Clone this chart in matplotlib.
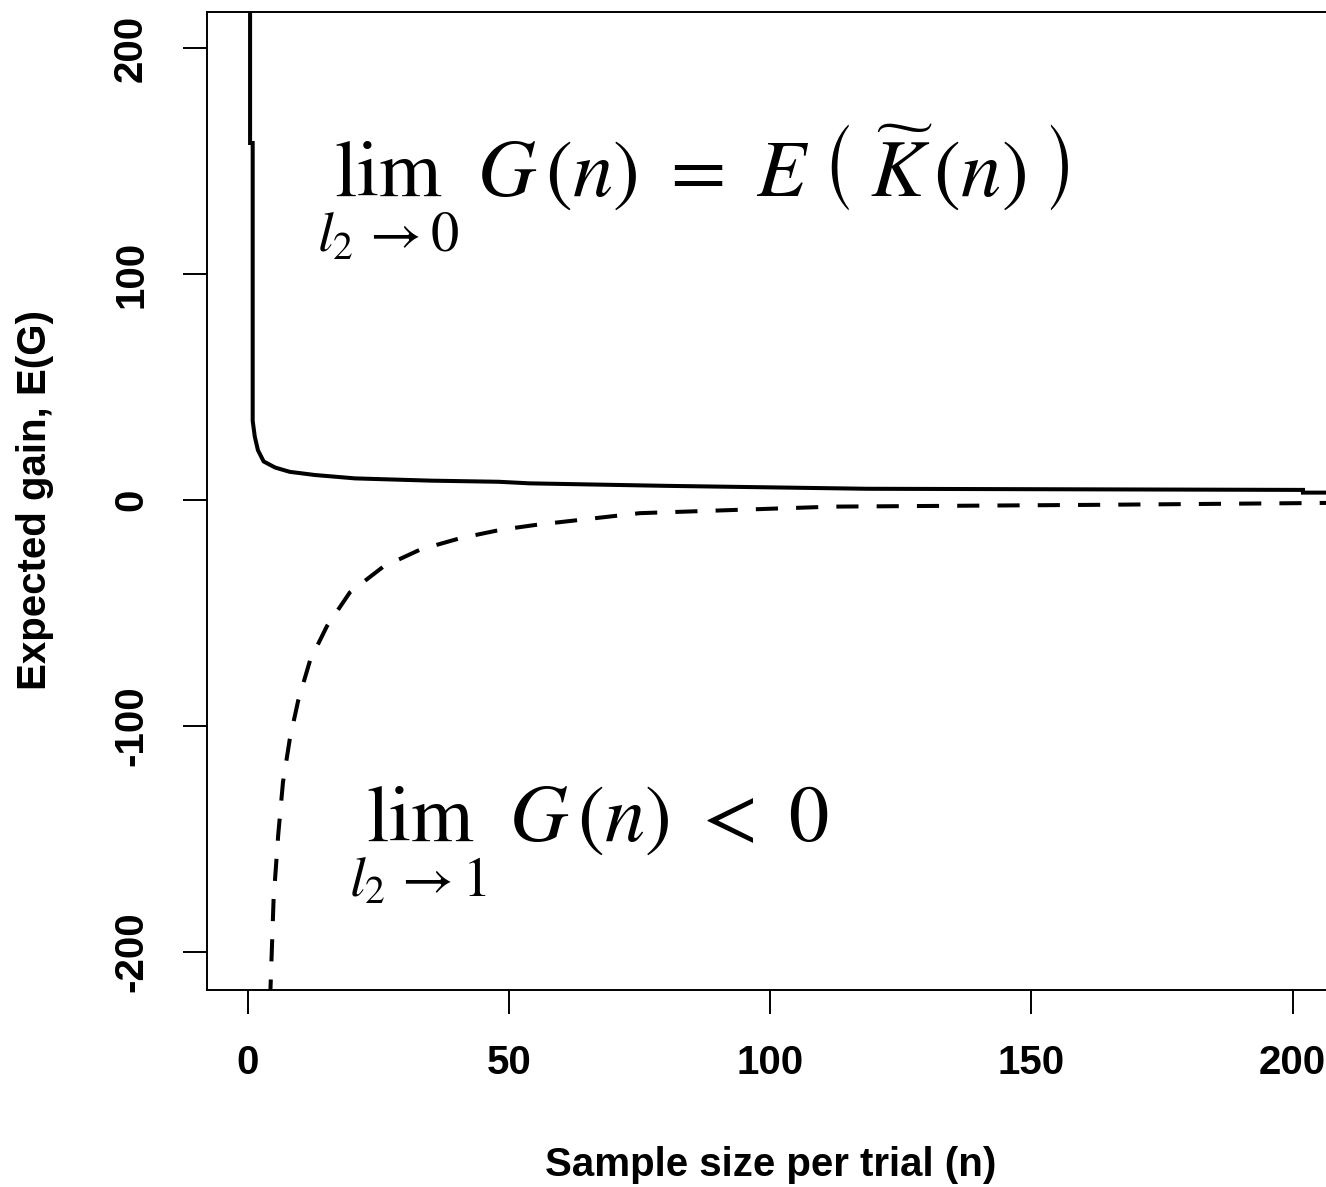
import matplotlib
matplotlib.use('Agg')
import matplotlib.pyplot as plt

# curve for l2 -> 0 (solid)
n_solid = [0.4, 0.4, 0.9, 0.9, 1.3, 1.9, 3.0, 5.2, 8.0, 12.8, 20.5, 35, 48, 54, 80, 118.6, 202, 202, 215]
g_solid = [240, 158, 158, 35, 28, 22, 17, 14.3, 12.4, 11.0, 9.5, 8.5, 8.0, 7.3, 6.2, 4.9, 4.4, 3.2, 3.2]

# curve for l2 -> 1 (dashed)
n_dash = [4.1, 4.3, 4.9, 5.8, 6.7, 8.0, 9.6, 11.9, 15.1, 19.5, 25.9, 33, 40.6, 48.3, 55.4, 75, 112, 163, 215]
g_dash = [-240, -217, -177, -148, -125, -106, -89, -71, -56, -41, -29.6, -22, -17, -13.3, -11, -5.9, -3.0, -2.2, -1.2]

x_ticks = [0, 50, 100, 150, 200]
y_ticks = [-200, -100, 0, 100, 200]

plt.rcParams['mathtext.fontset'] = 'stix'
tick_font = dict(family=['Liberation Sans Narrow', 'Liberation Sans'], weight='bold')

fig = plt.figure(figsize=(13.26, 11.87), dpi=100)
ax = fig.add_axes([0.1561, 0.166, 0.86, 0.8239])

ax.plot(n_solid, g_solid, color='black', lw=2.9, solid_joinstyle='miter')
ax.plot(n_dash, g_dash, color='black', lw=2.9, linestyle=(0, (5.5, 4.5)))

ax.set_xlim(-7.85, 210.5)
ax.set_ylim(-217, 216)
ax.set_xticks(x_ticks)
ax.set_yticks(y_ticks)
ax.set_xticklabels([str(v) for v in x_ticks], fontsize=29, **tick_font)
ax.set_yticklabels([str(v) for v in y_ticks], fontsize=29, rotation=90, va='center', **tick_font)
ax.tick_params(axis='x', length=17, width=1.4, pad=22)
ax.tick_params(axis='y', length=17, width=1.4, pad=24)
for side in ['left', 'bottom', 'top', 'right']:
    ax.spines[side].set_linewidth(1.4)

ax.set_xlabel('Sample size per trial (n)', fontsize=29, **tick_font)
ax.set_ylabel('Expected gain, E(G)', fontsize=29, **tick_font)
ax.xaxis.set_label_coords(0.494, -0.160)
ax.yaxis.set_label_coords(-0.134, 0.501)

ax.text(13.2, 136, r'$\lim_{l_2 \rightarrow 0}\ G\,(n)\ =\ E\;\left(\;\widetilde{K}\,(n)\;\right)$',
        fontsize=58, ha='left', va='center')
ax.text(19.3, -153, r'$\lim_{l_2 \rightarrow 1}\ G\,(n)\ <\ 0$',
        fontsize=58, ha='left', va='center')

plt.savefig('out.png', dpi=100)
